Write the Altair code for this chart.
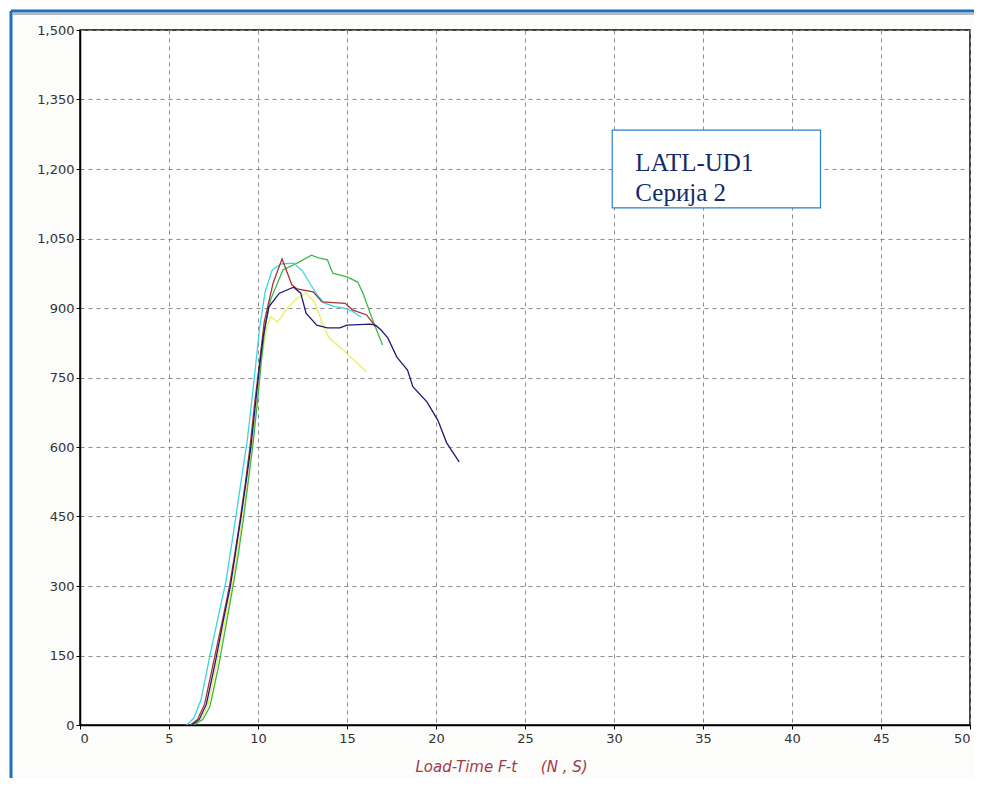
import altair as alt
import pandas as pd

# ---- data ----
yellow_x = [6.3, 6.8, 7.2, 7.7, 8.15, 8.55, 8.85, 9.15, 9.45, 9.7, 9.95, 10.2, 10.5, 10.7, 11.1, 11.7, 12.2, 12.7, 13.2, 13.7, 14.0, 14.6, 15.2, 15.8, 16.1]
yellow_y = [0, 12, 45, 135, 225, 300, 375, 450, 530, 610, 700, 790, 860, 881, 870, 902, 921, 932, 911, 859, 835, 816, 794, 773, 762]

green_x = [6.4, 6.9, 7.3, 7.8, 8.2, 8.6, 8.9, 9.2, 9.45, 9.7, 9.95, 10.2, 10.4, 10.7, 11.4, 12.2, 13.0, 13.4, 13.9, 14.2, 15.0, 15.6, 15.9, 16.5, 17.0]
green_y = [0, 12, 40, 130, 215, 300, 370, 450, 525, 600, 690, 790, 860, 917, 982, 997, 1014, 1008, 1004, 975, 967, 956, 932, 868, 820]

cyan_x = [6.0, 6.4, 6.8, 7.3, 7.8, 8.2, 8.5, 8.8, 9.1, 9.4, 9.65, 9.85, 10.1, 10.4, 10.8, 11.3, 12.0, 12.5, 12.9, 13.3, 13.7, 14.3, 14.8, 15.3, 15.8]
cyan_y = [0, 15, 55, 150, 240, 310, 385, 460, 540, 615, 700, 770, 860, 935, 982, 995, 997, 980, 954, 930, 911, 903, 900, 893, 880]

red_x = [6.2, 6.6, 7.0, 7.5, 8.0, 8.4, 8.7, 9.0, 9.3, 9.55, 9.8, 10.05, 10.35, 10.85, 11.35, 11.9, 12.2, 13.1, 13.6, 14.9, 15.3, 16.1, 16.4, 16.6]
red_y = [0, 12, 45, 135, 225, 300, 370, 445, 525, 600, 690, 770, 870, 954, 1006, 950, 941, 935, 913, 910, 896, 885, 870, 860]

navy_x = [6.3, 6.7, 7.1, 7.6, 8.05, 8.45, 8.75, 9.05, 9.35, 9.6, 9.85, 10.1, 10.3, 10.6, 11.2, 12.0, 12.4, 12.7, 13.3, 13.9, 14.6, 15.0, 16.3, 16.6, 16.9, 17.3, 17.8, 18.4, 18.7, 19.5, 20.1, 20.6, 21.3]
navy_y = [0, 12, 45, 135, 225, 300, 375, 450, 530, 600, 690, 780, 840, 902, 932, 945, 932, 889, 863, 857, 857, 863, 865, 863, 853, 835, 794, 766, 730, 697, 658, 609, 568]

series_names = ["yellow", "green", "cyan", "red", "navy"]
series_colors = ["#eded5c", "#3cb84a", "#38d8e0", "#a83236", "#1c1c78"]

x_ticks = list(range(0, 51, 5))
y_ticks = list(range(0, 1501, 150))

label_lines = ["LATL-UD1", "Серија 2"]

rows = []
for name, xs, ys in [("yellow", yellow_x, yellow_y), ("green", green_x, green_y),
                     ("cyan", cyan_x, cyan_y), ("red", red_x, red_y), ("navy", navy_x, navy_y)]:
    for i, (a, b) in enumerate(zip(xs, ys)):
        rows.append({"series": name, "order": i, "t": a, "F": b})
df = pd.DataFrame(rows)

W, H = 890, 695

xscale = alt.Scale(domain=[0, 50], nice=False)
yscale = alt.Scale(domain=[0, 1500], nice=False)

lines = alt.Chart(df).mark_line(strokeWidth=1.3, clip=True).encode(
    x=alt.X("t:Q", scale=xscale,
            axis=alt.Axis(values=x_ticks, format="d", title="Load-Time F-t\u00a0\u00a0\u00a0\u00a0\u00a0(N , S)",
                          titleFont="DejaVu Sans", titleFontStyle="italic", titleFontWeight="normal",
                          titleFontSize=15, titleColor="#a33a4a", titleX=421, titleY=34,
                          titleAlign="center", titleBaseline="top",
                          labelFont="DejaVu Sans", labelFontSize=13, labelColor="#333333",
                          grid=True, gridDash=[4, 4], gridColor="#8a8a8a", gridWidth=1,
                          domainColor="#000000", domainWidth=1.5, tickColor="#000000", tickSize=4,
                          labelPadding=3)),
    y=alt.Y("F:Q", scale=yscale,
            axis=alt.Axis(values=y_ticks, format=",.0f", title=None,
                          labelFont="DejaVu Sans", labelFontSize=13, labelColor="#333333",
                          grid=True, gridDash=[4, 4], gridColor="#8a8a8a", gridWidth=1,
                          domainColor="#000000", domainWidth=1.5, tickColor="#000000", tickSize=4,
                          labelPadding=2)),
    color=alt.Color("series:N", scale=alt.Scale(domain=series_names, range=series_colors), legend=None),
    order="order:Q",
)

box_df = pd.DataFrame({"x1": [29.9], "x2": [41.6], "y1": [1284], "y2": [1116]})
box = alt.Chart(box_df).mark_rect(fill="white", stroke="#2a7fd0", strokeWidth=1.2).encode(
    x="x1:Q", x2="x2:Q", y="y1:Q", y2="y2:Q")

txt_df = pd.DataFrame({"x": [31.2, 31.2], "y": [1195, 1130], "label": label_lines})
txt = alt.Chart(txt_df).mark_text(align="left", baseline="alphabetic", font="Liberation Serif",
                                  fontSize=25, color="#14296a").encode(
    x="x:Q", y="y:Q", text="label:N")

# window frame decoration (blue left / top edges)
frame_left = alt.Chart(box_df).mark_rule(color="#1f6fc0", strokeWidth=3).encode(
    x=alt.value(-69), y=alt.value(-19), y2=alt.value(748))
frame_top = alt.Chart(box_df).mark_rule(color="#1f6fc0", strokeWidth=3).encode(
    x=alt.value(-69), x2=alt.value(894), y=alt.value(-19))
frame_top2 = alt.Chart(box_df).mark_rule(color="#b8b8b8", strokeWidth=2).encode(
    x=alt.value(-67), x2=alt.value(894), y=alt.value(-16))

chart = alt.layer(frame_top2, frame_top, frame_left, lines, box, txt).properties(
    width=W, height=H,
    autosize=alt.AutoSizeParams(type="none"),
    padding={"left": 72, "top": 22, "right": 4, "bottom": 53},
    background="#fcfcfa",
).configure_view(stroke="#000000", strokeWidth=1.5, fill="white")

chart.save("out.html", embed_options={"renderer": "svg", "actions": False})
